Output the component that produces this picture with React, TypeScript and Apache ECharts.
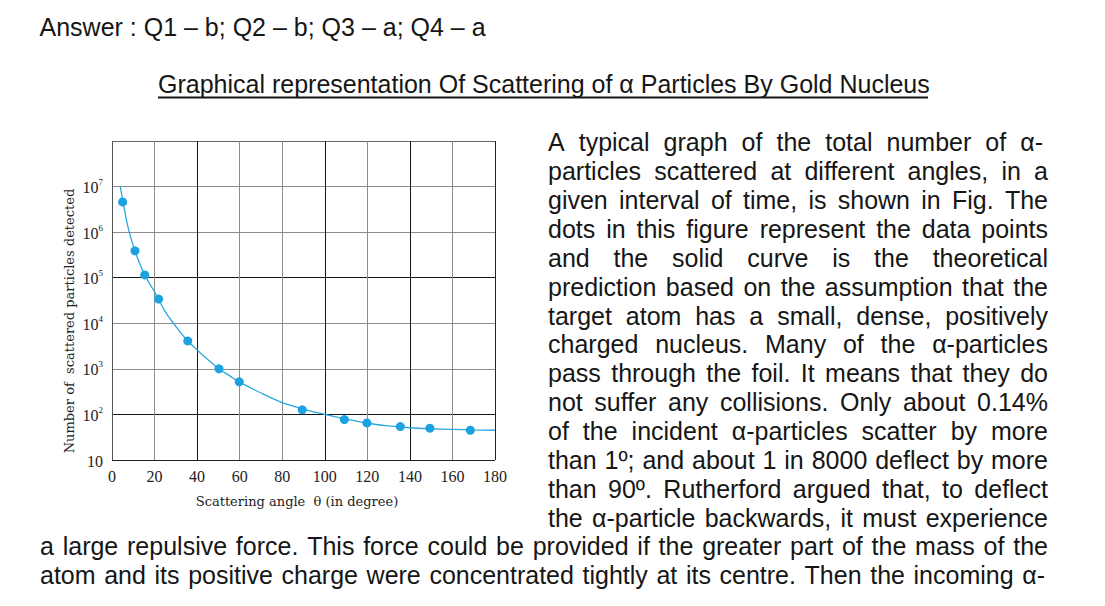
import React, { useEffect, useRef } from "react";
import * as echarts from "echarts";

// ---- data ----
const angleTicks = [0, 20, 40, 60, 80, 100, 120, 140, 160, 180];
const yTickPowers = [1, 2, 3, 4, 5, 6, 7, 8];

const dotAngles = [5.0, 10.8, 15.4, 21.9, 35.6, 50.3, 59.8, 89.4, 109.2, 119.8, 135.5, 149.4, 168.4];
const dotCounts = [4.6e6, 3.9e5, 1.15e5, 3.4e4, 4.1e3, 1.0e3, 520, 126, 77, 65, 54, 50, 45];

const curveAngles = [3.9, 5, 7.5, 10, 12.5, 15, 17.5, 20, 25, 30, 35, 40, 45, 50, 55, 60, 70, 80, 90, 100, 110, 120, 130, 140, 150, 160, 170, 180];
const curveCounts = [1.0e7, 5.2e6, 1.3e6, 5.0e5, 2.35e5, 1.25e5, 7.6e4, 4.9e4, 1.8e4, 8.6e3, 4.4e3, 2.6e3, 1.6e3, 1.02e3, 720, 510, 295, 182, 131, 100, 79, 64, 56, 51, 48.5, 47, 45.8, 45];

const answerText = "Answer : Q1 – b; Q2 – b; Q3 – a; Q4 – a";
const titleText = "Graphical representation Of Scattering of α Particles By Gold Nucleus";
const xAxisName = "Scattering angle  θ (in degree)";
const yAxisName = "Number of  scattered particles detected";

const narrowLines = [
  "A typical graph of the total number of α-",
  "particles scattered at different angles, in a",
  "given interval of time, is shown in Fig. The",
  "dots in this figure represent the data points",
  "and the solid curve is the theoretical",
  "prediction based on the assumption that the",
  "target atom has a small, dense, positively",
  "charged nucleus. Many of the α-particles",
  "pass through the foil. It means that they do",
  "not suffer any collisions. Only about 0.14%",
  "of the incident α-particles scatter by more",
  "than 1º; and about 1 in 8000 deflect by more",
  "than 90º. Rutherford argued that, to deflect",
  "the α-particle backwards, it must experience",
];
const wideLines = [
  "a large repulsive force. This force could be provided if the greater part of the mass of the",
  "atom and its positive charge were concentrated tightly at its centre. Then the incoming α-",
];

const SANS = '"Liberation Sans", Arial, sans-serif';
const SERIF = '"Liberation Serif", "Times New Roman", serif';
const SERIF2 = '"DejaVu Serif", serif';
const TEXT_SIZE = 25;

const xColors = ["#555", "#8c8c8c", "#151515", "#8c8c8c", "#8c8c8c", "#151515", "#8c8c8c", "#151515", "#8c8c8c", "#202020"];
const yColors = ["#202020", "#151515", "#8c8c8c", "#8c8c8c", "#151515", "#8c8c8c", "#8c8c8c", "#666"];

function justifiedWords(line: string, x0: number, x1: number, yMid: number, ctx: CanvasRenderingContext2D | null) {
  const words = line.split(" ");
  const widths = words.map((w) => (ctx ? ctx.measureText(w).width : w.length * 12));
  const total = widths.reduce((a, b) => a + b, 0);
  const gap = words.length > 1 ? (x1 - x0 - total) / (words.length - 1) : 0;
  const out: any[] = [];
  let x = x0;
  words.forEach((w, i) => {
    out.push({
      type: "text",
      x,
      y: yMid,
      silent: true,
      style: {
        text: w,
        font: `${TEXT_SIZE}px ${SANS}`,
        fill: "#161616",
        align: "left",
        textAlign: "left",
        verticalAlign: "middle",
        textVerticalAlign: "middle",
      },
    });
    x += widths[i] + gap;
  });
  return out;
}

export default function App() {
  const ref = useRef<HTMLDivElement>(null);

  useEffect(() => {
    if (!ref.current) return;
    const chart = echarts.init(ref.current, undefined, { renderer: "svg" });

    const canvas = document.createElement("canvas");
    const ctx = canvas.getContext("2d");
    if (ctx) ctx.font = `${TEXT_SIZE}px ${SANS}`;

    const graphics: any[] = [];
    const baseline0 = 151;
    const pitch = 28.87;
    const mid = (b: number) => b - 8.7;
    narrowLines.forEach((ln, i) => {
      const right = ln.endsWith("α-") ? 1043 : 1048;
      graphics.push(...justifiedWords(ln, 548, right, mid(baseline0 + i * pitch), ctx));
    });
    wideLines.forEach((ln, i) => {
      const right = ln.endsWith("α-") ? 1045 : 1048;
      graphics.push(...justifiedWords(ln, 40, right, mid(baseline0 + (narrowLines.length + i) * pitch), ctx));
    });

    graphics.push({
      type: "text",
      x: 39.5,
      y: mid(35.5),
      silent: true,
      style: { text: answerText, font: `${TEXT_SIZE}px ${SANS}`, fill: "#161616", align: "left", textAlign: "left", verticalAlign: "middle", textVerticalAlign: "middle" },
    });
    graphics.push({
      type: "text",
      x: 158,
      y: mid(92.5),
      silent: true,
      style: { text: titleText, font: `${TEXT_SIZE}px ${SANS}`, fill: "#161616", align: "left", textAlign: "left", verticalAlign: "middle", textVerticalAlign: "middle" },
    });
    graphics.push({
      type: "line",
      silent: true,
      shape: { x1: 158, y1: 97.5, x2: 928, y2: 97.5 },
      style: { stroke: "#161616", lineWidth: 1.8 },
    });
    graphics.push({
      type: "text",
      x: 297,
      y: 501,
      silent: true,
      style: { text: xAxisName, font: `13px ${SERIF2}`, fill: "#222", align: "center", textAlign: "center", verticalAlign: "middle", textVerticalAlign: "middle" },
    });
    graphics.push({
      type: "text",
      x: 69,
      y: 321,
      rotation: Math.PI / 2,
      silent: true,
      style: { text: yAxisName, font: `13px ${SERIF2}`, fill: "#222", align: "center", textAlign: "center", verticalAlign: "middle", textVerticalAlign: "middle" },
    });

    const option: any = {
      animation: false,
      backgroundColor: "#ffffff",
      grid: { left: 112, top: 141, width: 383, height: 319, containLabel: false },
      xAxis: {
        type: "value",
        min: angleTicks[0],
        max: angleTicks[angleTicks.length - 1],
        interval: angleTicks[1] - angleTicks[0],
        axisLine: { show: false },
        axisTick: { show: false },
        axisLabel: { fontFamily: SERIF, fontSize: 16, color: "#222", margin: 8 },
        splitLine: { show: true, lineStyle: { color: xColors, width: 1 } },
      },
      yAxis: {
        type: "log",
        logBase: 10,
        min: Math.pow(10, yTickPowers[0]),
        max: Math.pow(10, yTickPowers[yTickPowers.length - 1]),
        axisLine: { show: false },
        axisTick: { show: false },
        splitLine: { show: true, lineStyle: { color: yColors, width: 1 } },
        axisLabel: {
          margin: 9,
          showMaxLabel: false,
          formatter: (v: number) => {
            const p = Math.round(Math.log10(v));
            if (p >= yTickPowers[yTickPowers.length - 1]) return "";
            if (p === 1) return "{b|10}";
            return `{b|10}{s|${p}}`;
          },
          rich: {
            b: { fontFamily: SERIF, fontSize: 16, color: "#222", lineHeight: 18, verticalAlign: "bottom" },
            s: { fontFamily: SERIF, fontSize: 9, color: "#222", lineHeight: 18, verticalAlign: "top" },
          },
        },
      },
      series: [
        {
          type: "line",
          data: curveAngles.map((a, i) => [a, curveCounts[i]]),
          smooth: 0.35,
          symbol: "none",
          lineStyle: { color: "#2ba7df", width: 1.3 },
          silent: true,
          z: 2,
        },
        {
          type: "scatter",
          data: dotAngles.map((a, i) => [a, dotCounts[i]]),
          symbol: "circle",
          symbolSize: 9,
          itemStyle: { color: "#1ca3df", opacity: 1 },
          silent: true,
          z: 3,
        },
      ],
      graphic: graphics,
    };
    chart.setOption(option);
    return () => chart.dispose();
  }, []);

  return (
    <div
      ref={ref}
      style={{ position: "fixed", left: 0, top: 0, width: 1105, height: 606, background: "#fff" }}
    />
  );
}
